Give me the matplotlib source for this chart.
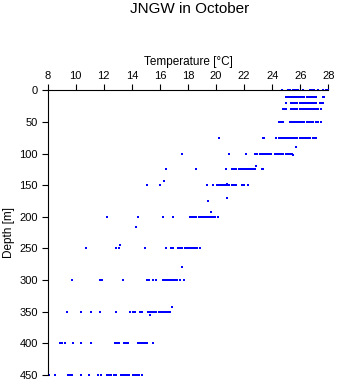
import matplotlib
matplotlib.use("Agg")
import matplotlib.pyplot as plt

plt.rcParams['font.family'] = ['Liberation Sans', 'DejaVu Sans']

# depth levels [m] and the temperatures [C] measured at each one
depths = [0, 10, 20, 30, 50, 75, 90, 100, 102, 120, 125, 143, 148, 150,
          170, 175, 192, 200, 216, 245, 250, 280, 300, 342, 350, 355, 400, 450]
temps = [
    [24.7, 25.15, 25.3, 25.45, 25.6, 25.75, 25.85, 26.2, 26.7, 26.85, 27.0, 27.25, 27.65, 27.8, 27.95],
    [25.0, 25.1, 25.25, 25.4, 25.55, 25.7, 25.85, 26.0, 26.15, 26.3, 26.45, 26.6, 26.75, 26.9, 27.05, 27.15, 27.6, 27.7],
    [25.0, 25.35, 25.5, 25.65, 25.8, 25.95, 26.1, 26.25, 26.4, 26.55, 26.7, 26.85, 27.0, 27.1, 27.4, 27.55, 27.65],
    [24.75, 24.9, 25.0, 25.35, 25.5, 25.65, 25.8, 25.95, 26.1, 26.25, 26.4, 26.55, 26.7, 26.85, 27.0, 27.15, 27.25, 27.45],
    [24.45, 24.6, 24.75, 25.25, 25.4, 25.55, 25.7, 25.85, 26.0, 26.15, 26.3, 26.45, 26.6, 26.75, 26.9, 27.1, 27.3, 27.45],
    [20.2, 23.35, 23.45, 24.3, 24.45, 24.6, 24.75, 24.9, 25.05, 25.2, 25.35, 25.5, 25.65, 25.8, 25.95,
     26.1, 26.25, 26.4, 26.55, 26.7, 26.9, 27.05, 27.15],
    [25.7],
    [17.55, 20.9, 22.15, 22.8, 22.95, 23.1, 23.25, 23.4, 23.55, 23.7, 23.85, 23.95,
     24.2, 24.35, 24.5, 24.65, 24.8, 24.95, 25.1, 25.25, 25.4],
    [25.45],
    [22.85],
    [16.4, 18.6, 20.7, 21.1, 21.25, 21.4, 21.6, 21.75, 21.9, 22.05, 22.2, 22.35, 22.5, 22.65, 22.8, 23.25, 23.35],
    [16.3],
    [20.75],
    [15.1, 16.0, 19.35, 19.8, 20.05, 20.2, 20.35, 20.5, 20.65, 20.8, 20.95, 21.1, 21.25, 21.45, 21.85, 22.0, 22.3],
    [20.75],
    [19.45],
    [19.65],
    [12.25, 14.4, 16.2, 16.9, 18.15, 18.3, 18.45, 18.6, 18.75, 18.9, 19.05, 19.2, 19.35, 19.5, 19.65, 19.8, 19.95, 20.15],
    [14.3],
    [13.15],
    [10.75, 12.9, 13.05, 14.9, 16.4, 16.8, 16.9, 17.3, 17.45, 17.6, 17.75, 17.9, 18.05, 18.2, 18.35, 18.5, 18.65, 18.85],
    [17.6],
    [9.7, 11.75, 11.85, 13.35, 15.05, 15.2, 15.5, 15.75, 16.2, 16.35, 16.5, 16.65, 16.8, 16.95, 17.1, 17.2, 17.45, 17.7],
    [16.85],
    [9.4, 10.4, 11.1, 11.75, 12.85, 13.9, 14.05, 14.2, 14.6, 14.7, 15.15, 15.3, 15.45, 15.6, 15.75,
     15.9, 16.05, 16.2, 16.35, 16.5, 16.65, 16.75],
    [15.3],
    [8.85, 9.0, 9.2, 9.8, 10.35, 11.1, 12.8, 12.95, 13.1, 13.45, 13.6, 13.75, 14.4, 14.55, 14.7, 14.85, 15.0, 15.1, 15.5],
    [8.1, 8.5, 9.45, 9.6, 9.75, 10.4, 10.95, 11.6, 11.8, 12.2, 12.35, 12.5, 12.7, 12.85, 13.2, 13.35, 13.5,
     13.65, 13.8, 14.05, 14.2, 14.35, 14.5, 14.7],
]
x_ticks = list(range(8, 29, 2))
y_ticks = list(range(0, 451, 50))

fig = plt.figure(figsize=(3.41, 3.84), dpi=100)
ax = fig.add_axes([0.1399, 0.0234, 0.8229, 0.7414])

for d, row in zip(depths, temps):
    ax.plot(row, [d] * len(row), linestyle='none', marker='s', markersize=1.8,
            markeredgewidth=0, color='#0000ff', clip_on=False)

ax.set_xlim(8, 28)
ax.set_ylim(450, 0)
ax.xaxis.tick_top()
ax.xaxis.set_label_position('top')
ax.set_xticks(x_ticks)
ax.set_yticks(y_ticks)
ax.spines['right'].set_visible(False)
ax.spines['bottom'].set_visible(False)
ax.tick_params(axis='both', direction='out', length=4, width=0.8, labelsize=8, pad=3)
ax.set_xlabel("Temperature [°C]", fontsize=8.5, labelpad=4)
ax.set_ylabel("Depth [m]", fontsize=8.5, labelpad=3)

fig.text(0.557, 1 - 9 / 384, "JNGW in October", ha='center', va='center', fontsize=11)

fig.savefig("out.png", dpi=100)
